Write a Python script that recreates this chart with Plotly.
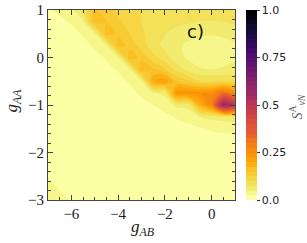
import numpy as np
import plotly.graph_objects as go

# grid coordinates
g_AB = [-7, -6.5, -6, -5.5, -5, -4.5, -4, -3.5, -3, -2.5, -2, -1.5, -1, -0.5, 0, 0.5, 1]
g_AA = [1, 0.75, 0.5, 0.25, 0, -0.25, -0.5, -0.75, -1, -1.25, -1.5, -1.75, -2, -2.25, -2.5, -2.75, -3]

# S_vN^A values, one list per g_AB column (top to bottom in g_AA)
col_m7_0 = [0.022, 0.012, 0.007, 0.005, 0.005, 0.005, 0.005, 0.005, 0.005, 0.005, 0.005, 0.005, 0.006, 0.012, 0.024, 0.03, 0.036]
col_m6_5 = [0.031, 0.018, 0.01, 0.006, 0.005, 0.005, 0.005, 0.005, 0.005, 0.005, 0.005, 0.005, 0.005, 0.008, 0.015, 0.024, 0.028]
col_m6_0 = [0.04, 0.028, 0.016, 0.009, 0.006, 0.005, 0.005, 0.005, 0.005, 0.005, 0.005, 0.005, 0.005, 0.005, 0.01, 0.017, 0.024]
col_m5_5 = [0.09, 0.042, 0.028, 0.016, 0.009, 0.006, 0.005, 0.005, 0.005, 0.005, 0.005, 0.005, 0.005, 0.005, 0.005, 0.007, 0.011]
col_m5_0 = [0.15, 0.16, 0.045, 0.029, 0.016, 0.009, 0.006, 0.005, 0.005, 0.005, 0.005, 0.005, 0.005, 0.005, 0.005, 0.005, 0.008]
col_m4_5 = [0.135, 0.15, 0.165, 0.045, 0.028, 0.016, 0.009, 0.006, 0.005, 0.005, 0.005, 0.005, 0.005, 0.005, 0.005, 0.005, 0.006]
col_m4_0 = [0.12, 0.13, 0.145, 0.165, 0.045, 0.028, 0.016, 0.009, 0.006, 0.005, 0.005, 0.005, 0.005, 0.005, 0.005, 0.005, 0.005]
col_m3_5 = [0.11, 0.115, 0.125, 0.14, 0.17, 0.044, 0.028, 0.015, 0.009, 0.006, 0.005, 0.005, 0.005, 0.005, 0.005, 0.005, 0.005]
col_m3_0 = [0.1, 0.1, 0.105, 0.115, 0.14, 0.18, 0.045, 0.03, 0.017, 0.01, 0.006, 0.005, 0.005, 0.005, 0.005, 0.005, 0.005]
col_m2_5 = [0.1, 0.095, 0.085, 0.082, 0.11, 0.15, 0.2, 0.048, 0.025, 0.014, 0.008, 0.005, 0.005, 0.005, 0.005, 0.005, 0.005]
col_m2_0 = [0.098, 0.088, 0.076, 0.07, 0.085, 0.13, 0.22, 0.055, 0.035, 0.019, 0.01, 0.006, 0.005, 0.005, 0.005, 0.005, 0.005]
col_m1_5 = [0.097, 0.082, 0.065, 0.055, 0.06, 0.09, 0.15, 0.24, 0.056, 0.027, 0.016, 0.009, 0.006, 0.005, 0.005, 0.005, 0.005]
col_m1_0 = [0.095, 0.078, 0.058, 0.045, 0.046, 0.065, 0.13, 0.25, 0.058, 0.034, 0.018, 0.011, 0.007, 0.005, 0.005, 0.005, 0.005]
col_m0_5 = [0.093, 0.074, 0.054, 0.04, 0.04, 0.052, 0.1, 0.25, 0.19, 0.05, 0.022, 0.012, 0.007, 0.005, 0.005, 0.005, 0.005]
col_p0_0 = [0.093, 0.073, 0.052, 0.038, 0.038, 0.05, 0.1, 0.26, 0.27, 0.058, 0.028, 0.015, 0.008, 0.005, 0.005, 0.005, 0.005]
col_p0_5 = [0.095, 0.075, 0.055, 0.04, 0.041, 0.053, 0.1, 0.32, 0.58, 0.062, 0.03, 0.016, 0.009, 0.006, 0.005, 0.005, 0.005]
col_p1_0 = [0.1, 0.08, 0.06, 0.046, 0.046, 0.058, 0.1, 0.26, 0.5, 0.065, 0.032, 0.017, 0.01, 0.006, 0.005, 0.005, 0.005]

cbar_ticks = [0, 0.25, 0.5, 0.75, 1.0]
cbar_text = ["0.0", "0.25", "0.5", "0.75", "1.0"]
x_ticks = [-6, -4, -2, 0]
y_ticks = [-3, -2, -1, 0, 1]

# reversed inferno colour stops (value -> colour)
cmap_values = [0.0, 0.05, 0.1, 0.15, 0.2, 0.25, 0.3, 0.35, 0.4, 0.45, 0.5,
               0.55, 0.6, 0.65, 0.7, 0.75, 0.8, 0.85, 0.9, 0.95, 1.0]
cmap_colors = ["#fcffa4", "#f1ed71", "#f6d746", "#fac228", "#fca50a", "#f98e09", "#f37819",
               "#e65d2f", "#dd513a", "#cc4248", "#bc3754", "#a32c61", "#932667", "#7e1e6c",
               "#6a176e", "#57106e", "#420a68", "#280b54", "#160b39", "#0a0722", "#000004"]

step = 0.025
# plotly maps contour colours over [start - step/2, end + step/2]; place stops accordingly
span = 1 + step
scale = [[0.0, cmap_colors[0]]]
for v, c in zip(cmap_values, cmap_colors):
    scale.append([(v + step / 2) / span, c])
scale.append([1.0, cmap_colors[-1]])

columns = [col_m7_0, col_m6_5, col_m6_0, col_m5_5, col_m5_0, col_m4_5, col_m4_0, col_m3_5,
           col_m3_0, col_m2_5, col_m2_0, col_m1_5, col_m1_0, col_m0_5, col_p0_0, col_p0_5, col_p1_0]
Z = np.array(columns).T  # rows follow g_AA, columns follow g_AB

serif = "Liberation Serif"
sans = "DejaVu Sans"

fig = go.Figure()
fig.add_trace(go.Contour(
    x=g_AB, y=g_AA, z=Z,
    colorscale=scale,
    zmin=0, zmax=1, autocontour=False,
    contours=dict(start=0, end=1, size=step, coloring="fill", showlines=False),
    line=dict(width=0),
    hoverinfo="skip",
    colorbar=dict(
        x=(246 - 48) / 187, xanchor="left", xpad=0,
        y=0.5, yanchor="middle", len=1, lenmode="fraction", ypad=0,
        thickness=11, outlinewidth=0,
        tickvals=cbar_ticks, ticktext=cbar_text,
        ticks="outside", ticklen=3, tickcolor="#333",
        tickfont=dict(family=sans, size=11, color="#222"),
    ),
))

axis_common = dict(
    showline=True, linecolor="#444", linewidth=1, mirror="allticks",
    ticks="inside", ticklen=5, tickcolor="#444", showgrid=False, zeroline=False,
    tickfont=dict(family=serif, size=15, color="#222"),
)
fig.update_xaxes(range=[-7, 1], tickvals=x_ticks, ticktext=["\u22126", "\u22124", "\u22122", "0"],
                 minor=dict(dtick=0.5, ticklen=3, ticks="inside", tickcolor="#444"), **axis_common)
fig.update_yaxes(range=[-3, 1], tickvals=y_ticks, ticktext=["\u22123", "\u22122", "\u22121", "0", "1"],
                 minor=dict(dtick=0.2, ticklen=3, ticks="inside", tickcolor="#444"), **axis_common)

fig.add_annotation(text="<i>g</i><sub><i>AB</i></sub>", xref="paper", yref="paper",
                   x=0.503, y=-0.145, xanchor="center", yanchor="middle", showarrow=False,
                   font=dict(family=serif, size=17, color="#222"))
fig.add_annotation(text="<i>g</i><sub><i>AA</i></sub>", xref="paper", yref="paper",
                   x=-0.185, y=0.526, xanchor="center", yanchor="middle", showarrow=False,
                   textangle=-90, font=dict(family=serif, size=17, color="#222"))
fig.add_annotation(text="<i>S</i><sup>A</sup><sub><i>vN</i></sub>", xref="paper", yref="paper",
                   x=1.33, y=0.49, xanchor="center", yanchor="middle", showarrow=False,
                   textangle=-90, font=dict(family=serif, size=14, color="#666"))
fig.add_annotation(text="c)", xref="paper", yref="paper",
                   x=0.79, y=0.889, xanchor="center", yanchor="middle", showarrow=False,
                   font=dict(family=sans, size=18, color="#111"))

fig.update_layout(
    width=307, height=243,
    margin=dict(l=48, r=72, t=10, b=43, autoexpand=False),
    paper_bgcolor="white", plot_bgcolor="white",
    showlegend=False,
)
fig.write_html("out.html", config={"displayModeBar": False},
               post_script="document.body.style.margin='0';")
